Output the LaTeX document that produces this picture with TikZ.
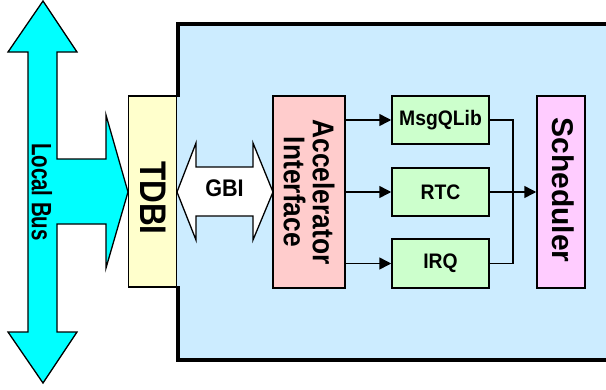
\documentclass[tikz,border=0pt]{standalone}
\usepackage{fontspec}
\setmainfont{Liberation Sans}
\usepackage{graphicx}
\usetikzlibrary{arrows.meta}
\definecolor{bgblue}{RGB}{204,236,255}
\definecolor{tdbiyel}{RGB}{255,255,204}
\definecolor{accred}{RGB}{255,204,204}
\definecolor{boxgreen}{RGB}{204,255,204}
\definecolor{schpink}{RGB}{255,204,255}
\definecolor{buscyan}{RGB}{0,255,255}
\newcommand\sqz[2]{\scalebox{#1}[1]{#2}}
\begin{document}
\begin{tikzpicture}[x=1pt,y=-1pt,
  blk/.style={draw=black,line width=1.5pt,inner sep=0pt,font=\bfseries},
  small/.style={blk,fill=boxgreen,minimum width=97pt,minimum height=48pt,font=\bfseries\fontsize{21}{21}\selectfont},
  conn/.style={line width=1.5pt},
  arr/.style={conn,-{Triangle[length=12pt,width=12pt]}},
  outl/.style={draw=black,line width=1.3pt,line join=miter}
]
\useasboundingbox (0,0) rectangle (606,389);
% big container
\draw[fill=bgblue,line width=4pt] (178,24) rectangle (640,360);
\fill[bgblue] (176,97) rectangle (181,286);
% Local bus arrow
\draw[outl,fill=buscyan] (43,1) -- (77,52) -- (57,52) -- (57,159) -- (106,159) -- (106,115) -- (128,192)
  -- (106,268) -- (106,224) -- (57,224) -- (57,332) -- (77,332) -- (43,383) -- (8,332) -- (28,332)
  -- (28,52) -- (8,52) -- cycle;
\node[rotate=-90,inner sep=0pt,font=\bfseries\fontsize{28}{28}\selectfont] (lb) at (42,192) {\sqz{0.73}{Local Bus}};
% TDBI
\node[blk,fill=tdbiyel,minimum width=48pt,minimum height=191pt] (tdbi) at (152.5,191.5) {};
\node[rotate=-90,inner sep=0pt,font=\bfseries\fontsize{37}{37}\selectfont] (tdbit) at (153.5,198) {\sqz{0.85}{TDBI}};
% GBI arrow
\draw[outl,fill=white] (177,192) -- (196,143) -- (196,167) -- (253,167) -- (253,143) -- (273,192)
  -- (253,240) -- (253,216) -- (196,216) -- (196,240) -- cycle;
\node[inner sep=0pt,font=\bfseries\fontsize{24}{24}\selectfont] (gbi) at (224.5,188) {\sqz{0.9}{GBI}};
% Accelerator interface
\node[blk,fill=accred,minimum width=72pt,minimum height=192pt] (acc) at (309,192) {};
\node[rotate=-90,inner sep=0pt,align=center,font=\bfseries\fontsize{30}{29}\selectfont] (acct) at (309,192)
  {\sqz{0.88}{Accelerator}\\\sqz{0.88}{Interface}};
% small boxes
\node[small] (msg) at (440.5,120) {\sqz{0.92}{MsgQLib}};
\node[small] (rtc) at (440.5,192) {\sqz{0.92}{RTC}};
\node[small,minimum height=49pt] (irq) at (440.5,263.5) {\sqz{0.92}{IRQ}};
% scheduler
\node[blk,fill=schpink,minimum width=48pt,minimum height=192pt] (sch) at (561,192) {};
\node[rotate=-90,inner sep=0pt,font=\bfseries\fontsize{30}{30}\selectfont] (scht) at (563,190) {Scheduler};
% connectors
\draw[arr] (acc.east |- msg) -- (msg.west);
\draw[arr] (acc.east |- rtc) -- (rtc.west);
\draw[arr] (acc.east |- irq) -- (irq.west);
\coordinate (j1) at (513,120);
\coordinate (j2) at (513,263.5);
\draw[conn] (msg.east) -- (j1) -- (j2) -- (irq.east);
\draw[arr] (rtc.east) -- (sch.west);
\end{tikzpicture}
\end{document}
